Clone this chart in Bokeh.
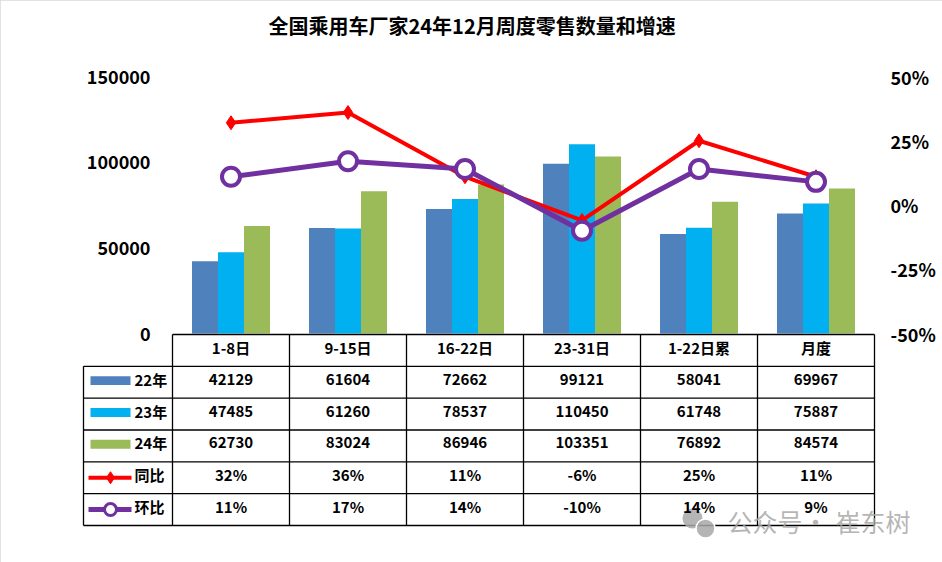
from bokeh.plotting import figure
from bokeh.models import Range1d, LinearAxis, FixedTicker, NumeralTickFormatter, ColumnDataSource, Label
from bokeh.core.properties import value
from bokeh.embed import file_html
from bokeh.resources import INLINE

################# Données ---
title_text = "全国乘用车厂家24年12月周度零售数量和增速"
categories = ["1-8日", "9-15日", "16-22日", "23-31日", "1-22日累", "月度"]
sales_22 = [42129, 61604, 72662, 99121, 58041, 69967]
sales_23 = [47485, 61260, 78537, 110450, 61748, 75887]
sales_24 = [62730, 83024, 86946, 103351, 76892, 84574]
yoy = [0.32, 0.36, 0.11, -0.06, 0.25, 0.11]   # 同比
mom = [0.11, 0.17, 0.14, -0.10, 0.14, 0.09]   # 环比
series_names = ["22年", "23年", "24年", "同比", "环比"]
left_ticks = [0, 50000, 100000, 150000]
right_ticks = [-0.5, -0.25, 0, 0.25, 0.5]

colors = ["#4F81BD", "#00B0F0", "#9BBB59", "#FF0000", "#7030A0"]
FONT = "Noto Sans CJK SC"

################# Mise en page (pixels de l'image de référence) ---
W, H = 942, 562
F_LEFT, F_RIGHT, F_TOP, F_BOT = 81, 935, 4, 552
COL0, COLW = 172, 117        # début des colonnes de catégories, largeur d'une colonne
ZERO_PX, PX_150K = 333, 257  # 0 et hauteur de 150000
PCT0_PX = 204.5              # 0% sur l'axe de droite
TBL_TOP, ROW_H = 334, 31.83
TXT_DY = -3 / ROW_H          # correction verticale du texte CJK (baseline "middle")

x_start = (F_LEFT - COL0) / COLW
x_end = (F_RIGHT - COL0) / COLW
k = 150000 / PX_150K
y_start, y_end = (ZERO_PX - F_BOT) * k, (ZERO_PX - F_TOP) * k
pct_start, pct_end = (PCT0_PX - F_BOT) / PX_150K, (PCT0_PX - F_TOP) / PX_150K
tbl_start, tbl_end = (F_BOT - TBL_TOP) / ROW_H, (F_TOP - TBL_TOP) / ROW_H

def px_x(px):
    return (px - COL0) / COLW

def px_row(py):
    return (py - TBL_TOP) / ROW_H

p = figure(width=W, height=H, x_range=Range1d(x_start, x_end), y_range=Range1d(y_start, y_end),
           output_backend="svg", toolbar_location=None, x_axis_location=None,
           min_border_left=F_LEFT, min_border_right=W - F_RIGHT,
           min_border_top=F_TOP, min_border_bottom=H - F_BOT)
p.extra_y_ranges = {"pct": Range1d(pct_start, pct_end), "tbl": Range1d(tbl_start, tbl_end)}
p.outline_line_color = None
p.grid.visible = False
p.background_fill_color = "white"
p.border_fill_color = "white"
# cadre gris clair du graphique
p.styles = {"outline": "2px solid #D9D9D9", "outline-offset": "-2px"}

# titre
p.add_layout(Label(x=px_x(268), y=px_row(28) + TXT_DY, y_range_name="tbl", text=title_text,
                   text_font=FONT, text_font_size="20px", text_font_style="bold",
                   text_color="black", text_baseline="middle"))

# axe de gauche
ya = p.yaxis[0]
ya.ticker = FixedTicker(ticks=left_ticks)
ya.formatter = NumeralTickFormatter(format="0")
ya.axis_line_color = None
ya.major_tick_line_color = None
ya.minor_tick_line_color = None
ya.major_tick_out = 0
ya.major_label_standoff = -(150 - F_LEFT)
ya.major_label_text_font = FONT
ya.major_label_text_font_size = "18px"
ya.major_label_text_font_style = "bold"
ya.major_label_text_color = "black"

# axe de droite (%)
ra = LinearAxis(y_range_name="pct", ticker=FixedTicker(ticks=right_ticks),
                formatter=NumeralTickFormatter(format="0%"))
ra.axis_line_color = None
ra.major_tick_line_color = None
ra.minor_tick_line_color = None
ra.major_tick_out = 0
ra.major_label_standoff = 890 - F_RIGHT
ra.major_label_text_font = FONT
ra.major_label_text_font_size = "18px"
ra.major_label_text_font_style = "bold"
ra.major_label_text_color = "black"
p.add_layout(ra, "right")

################# Barres ---
idx = list(range(len(categories)))
bw = 26 / COLW
for j, vals in enumerate([sales_22, sales_23, sales_24]):
    xs = [i + 0.5 + (j - 1) * bw for i in idx]
    p.vbar(x=xs, top=vals, bottom=0, width=bw, color=colors[j], line_color=None)

################# Tableau ---
n = len(categories)
nrows = len(series_names) + 1          # ligne d'en-tête + 5 séries
leg_x = px_x(83)
hx0 = [0] + [leg_x] * (nrows)
hx1 = [n] * (nrows + 1)
hy = list(range(nrows + 1))
p.segment(x0=hx0, x1=hx1, y0=hy, y1=hy, y_range_name="tbl", line_color="black", line_width=1.3)
vx = [leg_x] + list(range(n + 1))
vy0 = [1] + [0] * (n + 1)
vy1 = [nrows] * (n + 2)
p.segment(x0=vx, x1=vx, y0=vy0, y1=vy1, y_range_name="tbl", line_color="black", line_width=1.3)

################# Courbes ---
cx = [i + 0.5 for i in idx]
p.line(cx, yoy, y_range_name="pct", color=colors[3], line_width=4)
p.scatter(cx, yoy, y_range_name="pct", marker="diamond", size=14, color=colors[3])
p.line(cx, mom, y_range_name="pct", color=colors[4], line_width=5)
p.scatter(cx, mom, y_range_name="pct", marker="circle", size=18, line_width=4,
          line_color=colors[4], fill_color="white")

################# Légende du tableau ---
sw0, sw1 = px_x(90), px_x(130)
swm = (sw0 + sw1) / 2
for j in range(3):
    p.rect(x=[swm], y=[j + 1.45], width=sw1 - sw0, height=0.28, y_range_name="tbl",
           color=colors[j], line_color=None)
lx0, lx1 = px_x(88), px_x(131)
p.segment(x0=[lx0], x1=[lx1], y0=[4.5], y1=[4.5], y_range_name="tbl", color=colors[3], line_width=4)
p.scatter([swm], [4.5], y_range_name="tbl", marker="diamond", size=12, color=colors[3])
p.segment(x0=[lx0], x1=[lx1], y0=[5.5], y1=[5.5], y_range_name="tbl", color=colors[4], line_width=5)
p.scatter([swm], [5.5], y_range_name="tbl", marker="circle", size=12, line_width=3,
          line_color=colors[4], fill_color="white")
leg_src = ColumnDataSource(dict(x=[px_x(134)] * len(series_names),
                                y=[r + 1.5 + TXT_DY for r in range(len(series_names))],
                                text=series_names))
p.text(x="x", y="y", text="text", source=leg_src, y_range_name="tbl", text_align="left",
       text_baseline="middle", text_font=value(FONT), text_font_size="15px",
       text_font_style="bold", text_color="black")

################# Filigrane (icône) ---
p.scatter([px_x(692)], [px_row(518)], y_range_name="tbl", marker="circle",
          size=20, fill_color="#A8A8A8", line_color=None, fill_alpha=0.85)
p.scatter([px_x(705)], [px_row(528)], y_range_name="tbl", marker="circle",
          size=19, fill_color="#A8A8A8", line_color="white", line_width=1.5, fill_alpha=0.85)

################# Textes du tableau ---
tx, ty, tt = [], [], []
for i, c in enumerate(categories):
    tx.append(i + 0.5); ty.append(0.5 + TXT_DY); tt.append(c)
for r, vals in enumerate([sales_22, sales_23, sales_24]):
    for i, v in enumerate(vals):
        tx.append(i + 0.5); ty.append(r + 1.5 + TXT_DY); tt.append(str(v))
for r, vals in enumerate([yoy, mom]):
    for i, v in enumerate(vals):
        tx.append(i + 0.5); ty.append(r + 4.5 + TXT_DY); tt.append(f"{round(v * 100)}%")
cell_src = ColumnDataSource(dict(x=tx, y=ty, text=tt))
p.text(x="x", y="y", text="text", source=cell_src, y_range_name="tbl", text_align="center",
       text_baseline="middle", text_font=value(FONT), text_font_size="15px",
       text_font_style="bold", text_color="black")

################# Filigrane (texte) ---
for txt, px, al in [("公众号", 727, "left"), ("·", 815, "center"), ("崔东树", 835, "left")]:
    p.add_layout(Label(x=px_x(px), y=px_row(523) + TXT_DY, y_range_name="tbl", text=txt,
                       text_align=al, text_font=FONT, text_font_size="25px",
                       text_color="#A8A8A8", text_baseline="middle", text_alpha=0.85))

open("out.html", "w").write(file_html(p, INLINE))
